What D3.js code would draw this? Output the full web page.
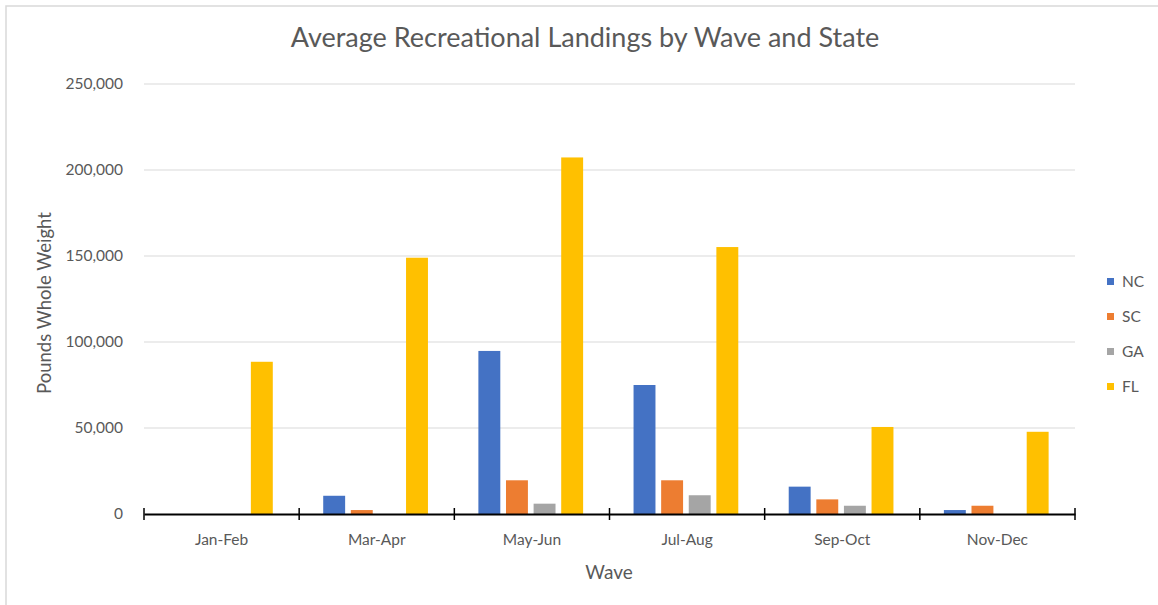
<!DOCTYPE html>
<html><head><meta charset="utf-8">
<script src="https://cdn.jsdelivr.net/npm/d3@7"></script>
<style>
html,body{margin:0;padding:0;background:#fff;}
svg{display:block;font-family:Lato,"Open Sans",sans-serif;}
</style></head>
<body>
<svg id="chart" width="1158" height="605"></svg>
<script>
const waves = ["Jan-Feb","Mar-Apr","May-Jun","Jul-Aug","Sep-Oct","Nov-Dec"];
const states = ["NC","SC","GA","FL"];
const colors = ["#4472C4","#ED7D31","#A5A5A5","#FFC000"];
const NC = [0, 10600, 94800, 75000, 15900, 2300];
const SC = [0, 2300, 19600, 19600, 8500, 4800];
const GA = [0, 0, 6000, 10900, 4800, 0];
const FL = [88500, 149000, 207300, 155200, 50600, 47800];
const yTicks = [0, 50000, 100000, 150000, 200000, 250000];
const seriesValues = [NC, SC, GA, FL];

(function(){
const svg = d3.select("#chart");
const textColor = "#595959";
const ff = "Lato, 'Open Sans', sans-serif";

svg.append("rect").attr("x",6).attr("y",6).attr("width",1200).attr("height",700)
  .attr("fill","none").attr("stroke","#d9d9d9").attr("stroke-width",1.5);

const mLeft = 144, mRight = 1075, mTop = 84, mBottom = 514;
const x0 = d3.scaleBand().domain(waves).range([mLeft, mRight]).paddingInner(0).paddingOuter(0);
const bw = x0.bandwidth();
const x1 = d3.scaleBand().domain(states).range([bw*0.155, bw*0.83]).paddingInner(0.206).paddingOuter(0);
const y = d3.scaleLinear().domain([0, 250000]).range([mBottom, mTop]);

svg.append("g").selectAll("line").data(yTicks.filter(d=>d>0)).join("line")
  .attr("x1", mLeft).attr("x2", mRight)
  .attr("y1", d=>y(d)).attr("y2", d=>y(d))
  .attr("stroke","#d9d9d9").attr("stroke-width",1);

const yAxis = d3.axisLeft(y).tickValues(yTicks).tickSize(0).tickPadding(0)
  .tickFormat(d3.format(","));
const ya = svg.append("g").attr("transform",`translate(${mLeft-21},0)`).call(yAxis);
ya.select(".domain").remove();
ya.selectAll("text").attr("fill",textColor).attr("font-size","15.5px").attr("font-family",ff);

const data = [];
waves.forEach((w,i)=>states.forEach((s,j)=>data.push({w,s,v:seriesValues[j][i],c:colors[j]})));
svg.append("g").selectAll("rect").data(data).join("rect")
  .attr("x", d=>x0(d.w)+x1(d.s))
  .attr("width", x1.bandwidth())
  .attr("y", d=>y(d.v))
  .attr("height", d=>mBottom - y(d.v))
  .attr("fill", d=>d.c);

const xAxis = d3.axisBottom(x0).tickSize(0).tickPadding(20);
const xa = svg.append("g").attr("transform",`translate(0,${mBottom})`).call(xAxis);
xa.select(".domain").attr("stroke","#000").attr("stroke-width",2);
xa.selectAll("text").attr("fill",textColor).attr("font-size","15.5px").attr("font-family",ff);
const bounds = waves.map(w=>x0(w)).concat([mRight]);
svg.append("g").selectAll("line").data(bounds).join("line")
  .attr("x1",d=>d).attr("x2",d=>d)
  .attr("y1",mBottom-6).attr("y2",mBottom+6)
  .attr("stroke","#000").attr("stroke-width",1.5);

svg.append("text").attr("x",585).attr("y",47).attr("text-anchor","middle")
  .attr("fill",textColor).attr("font-size","27px").text("Average Recreational Landings by Wave and State");

svg.append("text").attr("transform","translate(51,303) rotate(-90)").attr("text-anchor","middle")
  .attr("fill",textColor).attr("font-size","18.5px").text("Pounds Whole Weight");
svg.append("text").attr("x",609).attr("y",579).attr("text-anchor","middle")
  .attr("fill",textColor).attr("font-size","19px").text("Wave");

const lg = svg.append("g").selectAll("g").data(states).join("g")
  .attr("transform",(d,i)=>`translate(1107,${278 + i*35})`);
lg.append("rect").attr("width",7).attr("height",7).attr("fill",(d,i)=>colors[i]);
lg.append("text").attr("x",15).attr("y",9).attr("fill",textColor).attr("font-size","15.5px").text(d=>d);
})();
</script>
</body></html>
